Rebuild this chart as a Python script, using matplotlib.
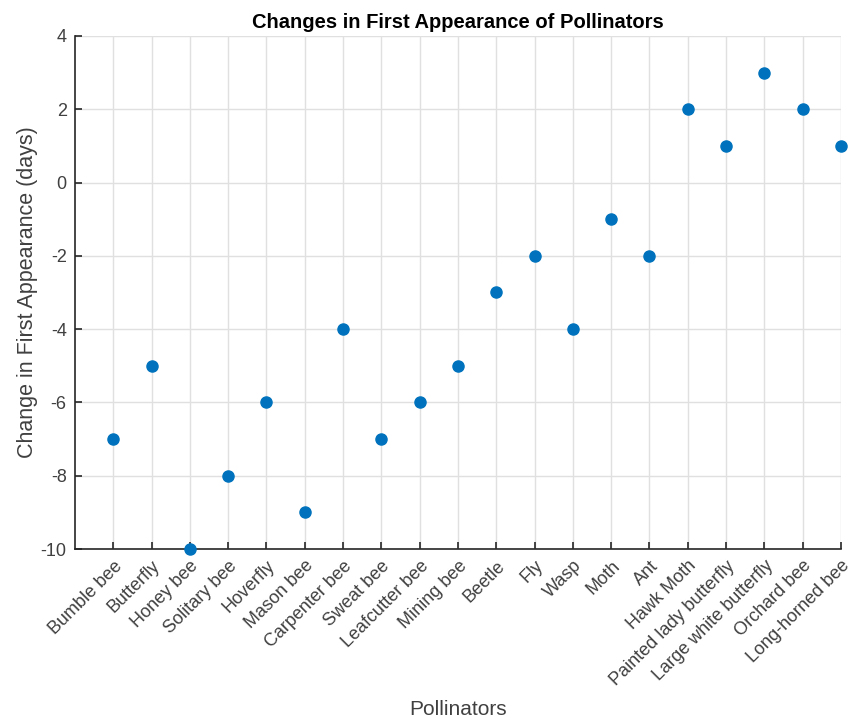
import matplotlib.pyplot as plt
import numpy as np

pollinators = ['Bumble bee', 'Butterfly', 'Honey bee', 'Solitary bee', 'Hoverfly',
               'Mason bee', 'Carpenter bee', 'Sweat bee', 'Leafcutter bee', 'Mining bee',
               'Beetle', 'Fly', 'Wasp', 'Moth', 'Ant', 'Hawk Moth',
               'Painted lady butterfly', 'Large white butterfly', 'Orchard bee',
               'Long-horned bee']
change_days = [-7, -5, -10, -8, -6, -9, -4, -7, -6, -5,
               -3, -2, -4, -1, -2, 2, 1, 3, 2, 1]
y_ticks = [-10, -8, -6, -4, -2, 0, 2, 4]

plt.rcParams['font.family'] = ['Liberation Sans', 'DejaVu Sans']
txt = '#404040'

fig = plt.figure(figsize=(8.59, 7.19), dpi=100)
ax = fig.add_axes([0.0873, 0.2364, 0.979 - 0.0873, 0.95 - 0.2364])

x = np.arange(1, len(pollinators) + 1)
ax.plot(x, change_days, 'o', color='#0072BD', markersize=8, clip_on=False, zorder=3)

ax.set_xlim(0, len(pollinators))
ax.set_ylim(-10, 4)
ax.set_xticks(x)
ax.set_xticklabels(pollinators, rotation=45, ha='right', rotation_mode='anchor')
ax.set_yticks(y_ticks)
ax.set_yticklabels([str(v) for v in y_ticks])

ax.grid(True, color='#e0e0e0', linewidth=1)
ax.set_axisbelow(True)
for side in ['top', 'right']:
    ax.spines[side].set_visible(False)
for side in ['left', 'bottom']:
    ax.spines[side].set_color('#262626')
    ax.spines[side].set_linewidth(1.2)

ax.tick_params(direction='in', length=5, width=1.2, color='#262626',
               labelsize=13, labelcolor=txt, pad=6)

ax.set_title('Changes in First Appearance of Pollinators', fontsize=14.5,
             fontweight='bold', color='black', pad=6)
ax.set_xlabel('Pollinators', fontsize=15, color=txt, labelpad=8)
ax.set_ylabel('Change in First Appearance (days)', fontsize=15.5, color=txt, labelpad=2)

fig.savefig('out.png', dpi=100, facecolor='white')
